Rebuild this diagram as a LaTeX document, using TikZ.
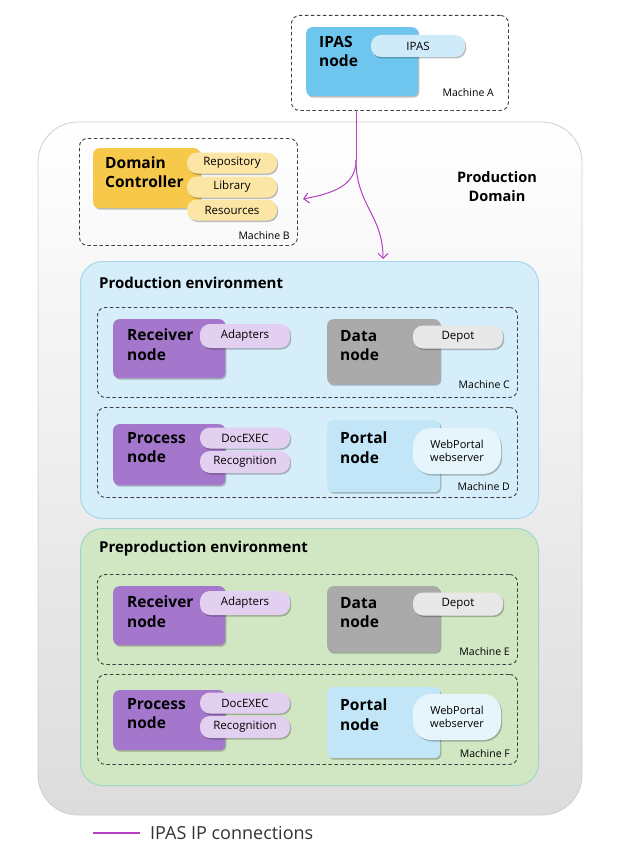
\documentclass[tikz,border=0pt]{standalone}
\usepackage{fontspec}
\setmainfont{Open Sans}
\usetikzlibrary{arrows.meta,shadows}
\definecolor{ipasblue}{HTML}{6EC6EE}
\definecolor{ipaspill}{HTML}{CFEAF8}
\definecolor{dcgold}{HTML}{F7C94A}
\definecolor{dcpill}{HTML}{FBE6A6}
\definecolor{purp}{HTML}{A577CC}
\definecolor{purppill}{HTML}{E3D0F0}
\definecolor{datagray}{HTML}{AAAAAA}
\definecolor{datapill}{HTML}{E8E8E8}
\definecolor{portal}{HTML}{C2E6F7}
\definecolor{portalpill}{HTML}{E6F4FB}
\definecolor{prodfill}{HTML}{D6EEF9}
\definecolor{prodline}{HTML}{A6D7EE}
\definecolor{prefill}{HTML}{D1E7C4}
\definecolor{preline}{HTML}{9FD6CA}
\definecolor{domline}{HTML}{CFCFCF}
\definecolor{domfill}{HTML}{DCDCDC}
\definecolor{ipasline}{HTML}{B63FC2}
\tikzset{
  machine/.style={draw=black!75, dash pattern=on 3.5pt off 2.5pt, line width=0.9pt, rounded corners=8pt, anchor=north west, inner sep=0pt},
  nodebox/.style={rounded corners=6pt, anchor=north west, inner sep=0pt,
     drop shadow={shadow xshift=1.2pt, shadow yshift=-1.5pt, fill=black, opacity=0.25}},
  pill/.style={rounded corners=10pt, inner sep=0pt, font=\fontsize{11.5}{13}\selectfont,
     drop shadow={shadow xshift=1.2pt, shadow yshift=-1.5pt, fill=black, opacity=0.25}},
  nodetext/.style={anchor=north west, inner sep=0pt, align=left, font=\bfseries\fontsize{15.5}{19.5}\selectfont},
  mlabel/.style={anchor=east, inner sep=0pt, font=\fontsize{10.5}{12}\selectfont},
  envtitle/.style={anchor=west, inner sep=0pt, font=\bfseries\fontsize{15}{17}\selectfont},
  ipas/.style={draw=ipasline, line width=1pt},
  ipasarrow/.style={ipas, -{Straight Barb[length=5pt,width=10pt]}},
}
\begin{document}
\begin{tikzpicture}[x=1pt,y=-1pt]
\useasboundingbox (0,0) rectangle (633,859);
% Production domain
\shade[top color=white, bottom color=domfill, draw=domline, line width=0.8pt, rounded corners=40pt] (38,122) rectangle (582,815);
\node[inner sep=0pt, align=center, font=\bfseries\fontsize{14.5}{19}\selectfont] (pdlabel) at (497,187) {Production\\Domain};
% Machine A
\node[machine, fill=white, minimum width=217pt, minimum height=95pt] (mA) at (291,15) {};
\node[nodebox, fill=ipasblue, minimum width=112pt, minimum height=69pt] (ipasnode) at (306,27) {};
\node[nodetext] (ipastext) at (319,36) {IPAS\\node};
\node[pill, fill=ipaspill, minimum width=94pt, minimum height=22pt] (ipaspillnode) at (418,46) {IPAS};
\node[mlabel] (mAl) at (494,93) {Machine A};
% Machine B
\node[machine, minimum width=218pt, minimum height=107pt] (mB) at (79,138) {};
\node[nodebox, fill=dcgold, minimum width=107pt, minimum height=60pt] (dc) at (93,148) {};
\node[nodetext, font=\bfseries\fontsize{15.5}{18.5}\selectfont] (dctext) at (105,157) {Domain\\Controller};
\node[pill, fill=dcpill, minimum width=90pt, minimum height=21pt] (repo) at (232,163) {Repository};
\node[pill, fill=dcpill, minimum width=90pt, minimum height=21pt] (lib) at (232,187) {Library};
\node[pill, fill=dcpill, minimum width=90pt, minimum height=21pt] (res) at (232,210) {Resources};
\node[mlabel] (mBl) at (290,236) {Machine B};
% Production environment
\node[draw=prodline, fill=prodfill, line width=1pt, rounded corners=22pt, anchor=north west, minimum width=458pt, minimum height=257pt, inner sep=0pt] (prod) at (80,261) {};
\node[envtitle] (prodtitle) at (99,283) {Production environment};
\node[machine, minimum width=420pt, minimum height=90pt] (mC) at (97,307) {};
\node[nodebox, fill=purp, minimum width=112pt, minimum height=59pt] (rn1) at (113,319) {};
\node[nodetext] (rn1t) at (127,329) {Receiver\\node};
\node[pill, fill=purppill, minimum width=90pt, minimum height=24pt] (ad1) at (245,336) {Adapters};
\node[nodebox, fill=datagray, minimum width=113pt, minimum height=65pt] (dn1) at (327,319) {};
\node[nodetext] (dn1t) at (340,330) {Data\\node};
\node[pill, fill=datapill, minimum width=90pt, minimum height=23pt] (dp1) at (458,337) {Depot};
\node[mlabel] (mCl) at (510,385) {Machine C};
\node[machine, minimum width=420pt, minimum height=90pt] (mD) at (97,407) {};
\node[nodebox, fill=purp, minimum width=112pt, minimum height=61pt] (pn1) at (113,424) {};
\node[nodetext] (pn1t) at (127,432) {Process\\node};
\node[pill, fill=purppill, minimum width=90pt, minimum height=22pt] (de1) at (245,462) {Recognition};
\node[pill, fill=purppill, minimum width=90pt, minimum height=21pt] (dx1) at (245,438) {DocEXEC};
\node[nodebox, fill=portal, minimum width=113pt, minimum height=72pt] (po1) at (327,420) {};
\node[nodetext] (po1t) at (340,432) {Portal\\node};
\node[pill, fill=portalpill, rounded corners=18pt, minimum width=88pt, minimum height=46pt, align=center, font=\fontsize{11}{13.5}\selectfont] (wp1) at (457,451) {WebPortal\\webserver};
\node[mlabel] (mDl) at (510,487) {Machine D};
% Preproduction environment
\node[draw=preline, fill=prefill, line width=1pt, rounded corners=22pt, anchor=north west, minimum width=458pt, minimum height=257pt, inner sep=0pt] (pre) at (80,528) {};
\node[envtitle] (pretitle) at (99,549) {Preproduction environment};
\node[machine, minimum width=420pt, minimum height=90pt] (mE) at (97,574) {};
\node[nodebox, fill=purp, minimum width=112pt, minimum height=59pt] (rn2) at (113,586) {};
\node[nodetext] (rn2t) at (127,596) {Receiver\\node};
\node[pill, fill=purppill, minimum width=90pt, minimum height=24pt] (ad2) at (245,603) {Adapters};
\node[nodebox, fill=datagray, minimum width=113pt, minimum height=66pt] (dn2) at (327,586) {};
\node[nodetext] (dn2t) at (340,597) {Data\\node};
\node[pill, fill=datapill, minimum width=90pt, minimum height=23pt] (dp2) at (458,604) {Depot};
\node[mlabel] (mEl) at (510,652) {Machine E};
\node[machine, minimum width=420pt, minimum height=90pt] (mF) at (97,674) {};
\node[nodebox, fill=purp, minimum width=112pt, minimum height=60pt] (pn2) at (113,690) {};
\node[nodetext] (pn2t) at (127,698) {Process\\node};
\node[pill, fill=purppill, minimum width=90pt, minimum height=22pt] (de2) at (245,727) {Recognition};
\node[pill, fill=purppill, minimum width=90pt, minimum height=21pt] (dx2) at (245,703) {DocEXEC};
\node[nodebox, fill=portal, minimum width=113pt, minimum height=71pt] (po2) at (327,687) {};
\node[nodetext] (po2t) at (340,699) {Portal\\node};
\node[pill, fill=portalpill, rounded corners=18pt, minimum width=88pt, minimum height=46pt, align=center, font=\fontsize{11}{13.5}\selectfont] (wp2) at (457,717) {WebPortal\\webserver};
\node[mlabel] (mFl) at (510,754) {Machine F};
% IPAS connections
\coordinate (s) at (356,110);
\coordinate (sp) at (356,160);
\coordinate (bEnd) at (303,199);
\coordinate (pEnd) at (383,259);
\draw[ipas] (s) -- (sp);
\draw[ipasarrow] (sp) .. controls (356,185) and (335,193) .. (bEnd);
\draw[ipasarrow] (sp) .. controls (356,205) and (383,215) .. (pEnd);
% Legend
\coordinate (l1) at (93,833);
\coordinate (l2) at (140,833);
\draw[draw=ipasline, line width=1.2pt] (l1) -- (l2);
\node[anchor=west, inner sep=0pt, font=\fontsize{18}{21}\selectfont, text=black!80] (legend) at (150,833) {IPAS IP connections};
\end{tikzpicture}
\end{document}
